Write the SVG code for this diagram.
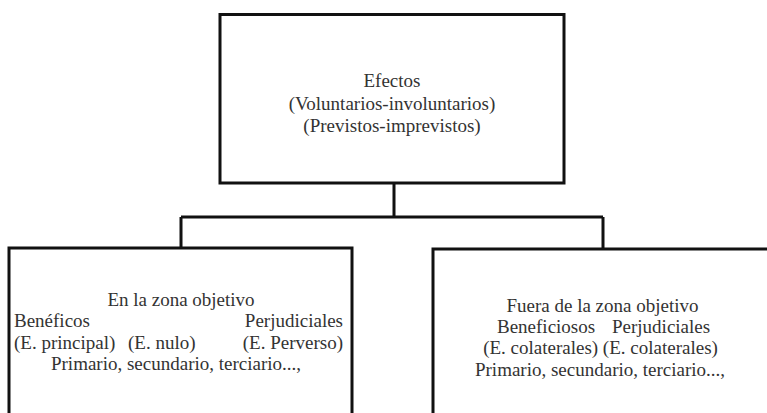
<svg xmlns="http://www.w3.org/2000/svg" width="767" height="413" viewBox="0 0 767 413">
<style>
.box{fill:#fff;stroke:#111;stroke-width:3}
.conn{fill:none;stroke:#111;stroke-width:3}
text{font-family:"Liberation Serif","Times New Roman",serif;font-size:19px;fill:#333}
.c{text-anchor:middle}
.e{text-anchor:end}
</style>
<rect width="767" height="413" fill="#fff"/>
<g id="connectors">
<path class="conn" d="M394 183 V217 M181 217 H603 M181 217 V248 M603 217 V249"/>
</g>
<g id="top">
<rect class="box" x="220" y="14.5" width="344" height="168.5"/>
<text class="c" x="392" y="87">Efectos</text>
<text class="c" x="392" y="109.5">(Voluntarios-involuntarios)</text>
<text class="c" x="392" y="132">(Previstos-imprevistos)</text>
</g>
<g id="left">
<rect class="box" x="9" y="248" width="343" height="180"/>
<text class="c" x="181" y="305.5">En la zona objetivo</text>
<text x="14" y="327">Benéficos</text>
<text class="e" x="343" y="327">Perjudiciales</text>
<text x="14" y="348.5">(E. principal)</text>
<text x="128" y="348.5">(E. nulo)</text>
<text class="e" x="343" y="348.5">(E. Perverso)</text>
<text class="c" x="176" y="370">Primario, secundario, terciario...,</text>
</g>
<g id="right">
<rect class="box" x="433" y="249" width="345" height="180"/>
<text class="c" x="602.5" y="312">Fuera de la zona objetivo</text>
<text x="497" y="333">Beneficiosos</text>
<text x="612" y="333">Perjudiciales</text>
<text class="c" x="600.5" y="354">(E. colaterales) (E. colaterales)</text>
<text class="c" x="600" y="376">Primario, secundario, terciario...,</text>
</g>
</svg>
